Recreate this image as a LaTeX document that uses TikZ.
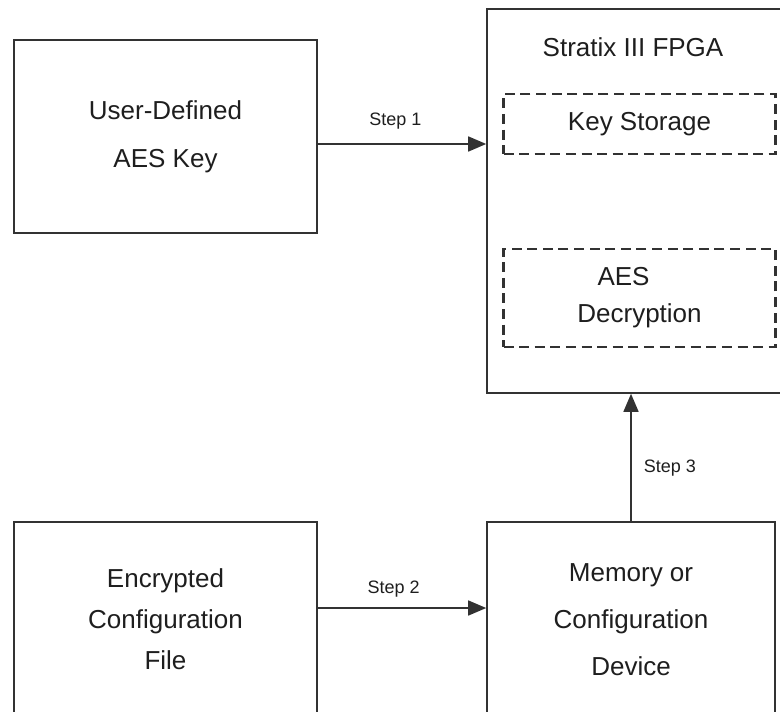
\documentclass[tikz,border=0pt]{standalone}
\usepackage{fontspec}
\setmainfont{Liberation Sans}
\usepackage{tikz}
\usetikzlibrary{arrows.meta,positioning}
\definecolor{boxGray}{RGB}{50,50,50}
\definecolor{txtGray}{RGB}{30,30,30}

\begin{document}
\begin{tikzpicture}[x=0.5pt,y=-0.5pt,
  block/.style={draw=boxGray, line width=0.8pt, inner sep=0pt, align=center, text=txtGray},
  dashblock/.style={draw=boxGray, line width=1.4pt, dash pattern=on 5pt off 2.8pt, inner sep=0pt, align=center, text=txtGray, minimum width=136pt},
  flow/.style={draw=boxGray, line width=0.75pt, -{Triangle[length=9pt,width=7.5pt]}},
  steplbl/.style={inner sep=0pt, text=txtGray, font=\fontsize{9}{11}\selectfont}]
\useasboundingbox (0,0) rectangle (780,711);
\clip (0,0) rectangle (780,711);

\node[block, minimum width=151.5pt, minimum height=96.5pt, font=\fontsize{13}{24}\selectfont] (user) at (165.5,136.5) {User-Defined\\AES Key};
\node[block, minimum width=149.5pt, minimum height=192pt] (fpga) at (636.5,201) {};
\node[text=txtGray, font=\fontsize{13}{16}\selectfont] (fpgaTitle) at (633,47) {Stratix III FPGA};
\node[dashblock, minimum height=30pt, font=\fontsize{13}{16}\selectfont] (keystore) at (639.5,124) {Key Storage};
\node[dashblock, minimum height=49pt, font=\fontsize{13}{18.5}\selectfont] (aesdec) at (639.5,298) {AES\hspace*{16pt}\\Decryption};

\node[block, minimum width=151.5pt, minimum height=97.5pt, font=\fontsize{13}{20.5}\selectfont] (encfile) at (165.5,619.5) {Encrypted\\Configuration\\File};
\node[block, minimum width=144pt, minimum height=97.5pt, font=\fontsize{13}{23.5}\selectfont] (memdev) at (631,619.5) {Memory or\\Configuration\\Device};

% steps
\draw[flow] ([yshift=-3.75pt]user.east) -- ([yshift=-3.75pt]user.east -| fpga.west)
  node[steplbl, pos=0.46, yshift=11.5pt] {Step 1};
\draw[flow] ([yshift=5.75pt]encfile.east) -- ([yshift=5.75pt]encfile.east -| memdev.west)
  node[steplbl, pos=0.45, yshift=9.5pt] {Step 2};
\draw[flow] (memdev.north) -- (memdev.north |- fpga.south)
  node[steplbl, pos=0.42, right=6pt] {Step 3};
\end{tikzpicture}
\end{document}
